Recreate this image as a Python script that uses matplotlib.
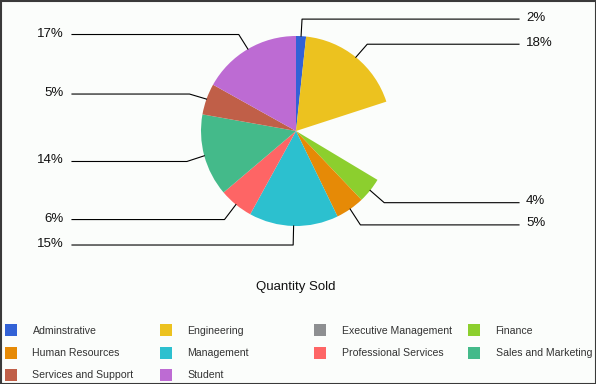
import numpy as np
import matplotlib
matplotlib.use("Agg")
import matplotlib.pyplot as plt
from matplotlib.patches import Rectangle

plt.rcParams['font.family'] = ['Liberation Sans', 'DejaVu Sans']

# quantity sold per department
categories = ["Adminstrative", "Engineering", "Executive Management", "Finance",
              "Human Resources", "Management", "Professional Services",
              "Sales and Marketing", "Services and Support", "Student"]
quantities = [17, 183, 136, 43, 49, 152, 58, 140, 53, 169]
colors = ["#3262d6", "#ecc21f", "#8d8f91", "#8ccf2e", "#e68a06",
          "#2cc0cf", "#fe6565", "#44ba8a", "#c05f48", "#bd6bd3"]
hidden = ["Executive Management"]   # slice not drawn in the original

W, H = 596, 384
fig = plt.figure(figsize=(W / 100, H / 100), dpi=100)
fig.patch.set_facecolor("#fbfdfb")
ax = fig.add_axes([0, 0, 1, 1])

cx, cy, R = 296, H - 131, 95
wedges, _ = ax.pie(quantities, colors=colors, startangle=90, counterclock=False,
                   center=(cx, cy), radius=R, frame=True,
                   wedgeprops=dict(linewidth=0, antialiased=True))
ax.set_xlim(0, W)
ax.set_ylim(0, H)
ax.set_aspect("equal")
ax.axis("off")

total = sum(quantities)
for w, name, q in zip(wedges, categories, quantities):
    if name in hidden:
        w.set_visible(False)
        continue
    mid = np.deg2rad((w.theta1 + w.theta2) / 2)
    x0, y0 = cx + R * np.cos(mid), cy + R * np.sin(mid)
    x1, y1 = cx + 1.19 * R * np.cos(mid), cy + 1.19 * R * np.sin(mid) - 1
    pct = f"{round(100 * q / total)}%"
    if np.cos(mid) >= 0:
        ax.plot([x0, x1, 519], [y0, y1, y1], color="black", lw=0.8)
        ax.text(526, y1 + 1.5, pct, fontsize=9.5, va="center", ha="left", color="#111111")
    else:
        ax.plot([x0, x1, 72], [y0, y1, y1], color="black", lw=0.8)
        ax.text(64, y1 + 1, pct, fontsize=9.5, va="center", ha="right", color="#111111")

ax.text(296, H - 287, "Quantity Sold", fontsize=9.5, ha="center", va="center", color="#111111")

# legend, 4 columns
col_x = [5, 160, 314, 468]
row_y = [330, 352.5, 374.5]
for i, (name, c) in enumerate(zip(categories, colors)):
    x = col_x[i % 4]
    y = H - row_y[i // 4]
    ax.add_patch(Rectangle((x, y - 6), 12, 12, facecolor=c, edgecolor="none"))
    ax.text(x + 27.5, y - 0.5, name, fontsize=7.6, va="center", ha="left", color="#333333")

# frame around the whole picture
ax.add_patch(Rectangle((0.5, 0.5), W - 1, H - 1, fill=False, edgecolor="#3a3a3a",
                       lw=1.5, clip_on=False))

fig.savefig("out.png", dpi=100, facecolor=fig.get_facecolor())
